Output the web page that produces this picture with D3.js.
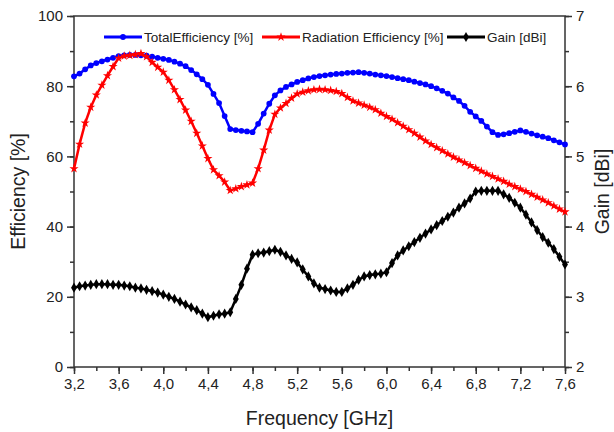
<!DOCTYPE html>
<html>
<head>
<meta charset="utf-8">
<script src="https://cdn.jsdelivr.net/npm/d3@7"></script>
<style>
	body { margin: 0; background: #fff; }
	svg text { font-family: "Liberation Sans", Arial, sans-serif; fill: #222; }
	.axis path, .axis line { stroke: #333; stroke-width: 1.5; }
</style>
</head>
<body>
<svg id="chart" width="614" height="432"></svg>
<script>
// frequency grid, GHz (every 0.05)
var freqStart = 3.2, freqStep = 0.05;

// total efficiency [%]
var totalEff = [82.8, 83.6, 84.8, 85.9, 86.6, 87.1, 87.6, 88.1, 88.6, 88.8,
	88.9, 88.9, 88.8, 88.7, 88.4, 88.1, 87.8, 87.5, 87.0, 86.4,
	85.7, 84.6, 83.4, 82.0, 80.4, 77.8, 75.2, 71.5, 67.8, 67.5,
	67.3, 67.1, 66.9, 69.3, 72.2, 75.0, 77.4, 78.8, 79.8, 80.5,
	81.2, 81.7, 82.2, 82.6, 82.9, 83.1, 83.3, 83.5, 83.6, 83.8,
	83.9, 84.0, 83.8, 83.6, 83.3, 83.1, 82.9, 82.6, 82.3, 82.0,
	81.7, 81.3, 80.9, 80.5, 80.0, 79.4, 78.7, 77.9, 76.8, 75.8,
	74.4, 72.7, 71.4, 70.1, 68.5, 66.9, 66.1, 66.3, 66.6, 67.0,
	67.4, 67.0, 66.5, 66.0, 65.6, 65.2, 64.6, 64.0, 63.4];

// radiation efficiency [%]
var radEff = [56.5, 63.5, 69.5, 74.0, 77.5, 80.3, 83.0, 85.6, 88.0, 88.6,
	88.8, 89.0, 89.3, 88.4, 86.8, 85.4, 84.0, 81.7, 79.0, 76.2,
	73.2, 70.0, 66.6, 63.0, 59.4, 56.2, 54.5, 52.7, 50.3, 50.8,
	51.4, 51.9, 52.4, 56.5, 61.8, 67.5, 72.0, 73.8, 75.1, 76.6,
	77.8, 78.3, 78.7, 79.0, 79.1, 79.0, 78.8, 78.5, 77.9, 76.8,
	75.8, 75.2, 74.6, 74.0, 73.3, 72.3, 71.4, 70.6, 69.6, 68.6,
	67.6, 66.6, 65.5, 64.4, 63.4, 62.5, 61.6, 60.7, 59.8, 59.0,
	58.2, 57.4, 56.6, 55.8, 55.0, 54.3, 53.6, 52.9, 52.1, 51.4,
	50.7, 50.0, 49.2, 48.4, 47.6, 46.8, 45.9, 45.0, 44.2];

// gain [dBi]
var gain = [3.13, 3.15, 3.16, 3.17, 3.18, 3.18, 3.18, 3.17, 3.17, 3.16,
	3.15, 3.13, 3.12, 3.10, 3.08, 3.06, 3.03, 3.00, 2.97, 2.93,
	2.89, 2.85, 2.81, 2.76, 2.71, 2.73, 2.75, 2.76, 2.78, 2.97,
	3.17, 3.40, 3.60, 3.62, 3.63, 3.65, 3.67, 3.64, 3.59, 3.54,
	3.49, 3.39, 3.29, 3.19, 3.13, 3.11, 3.09, 3.07, 3.07, 3.12,
	3.17, 3.24, 3.29, 3.31, 3.32, 3.33, 3.35, 3.48, 3.59, 3.66,
	3.72, 3.78, 3.84, 3.90, 3.96, 4.02, 4.08, 4.14, 4.20, 4.27,
	4.33, 4.40, 4.50, 4.51, 4.51, 4.51, 4.51, 4.46, 4.41, 4.34,
	4.27, 4.17, 4.06, 3.95, 3.85, 3.77, 3.68, 3.57, 3.46];

var freqTicks = [3.2, 3.6, 4.0, 4.4, 4.8, 5.2, 5.6, 6.0, 6.4, 6.8, 7.2, 7.6];
var effTicks = [0, 20, 40, 60, 80, 100];
var gainTicks = [2, 3, 4, 5, 6, 7];
var legendNames = ['TotalEfficiency [%]', 'Radiation Efficiency [%]', 'Gain [dBi]'];

var svg = d3.select('#chart'),
		margin = {top: 16, right: 49, bottom: 65, left: 74},
		width = +svg.attr('width') - margin.left - margin.right,
		height = +svg.attr('height') - margin.top - margin.bottom,
		g = svg.append('g').attr('transform', 'translate(' + margin.left + ',' + margin.top + ')');

var freq = totalEff.map(function(d, i) { return +(freqStart + i * freqStep).toFixed(2); });

var x = d3.scaleLinear().domain([3.2, 7.6]).range([0, width]);
var yL = d3.scaleLinear().domain([0, 100]).range([height, 0]);
var yR = d3.scaleLinear().domain([2, 7]).range([height, 0]);

var comma = function(d) { return d3.format('.1f')(d).replace('.', ','); };

// minor ticks first, then labelled axes
g.append('g').attr('class', 'axis')
	.attr('transform', 'translate(0,' + height + ')')
	.call(d3.axisBottom(x).tickValues(d3.range(3.2, 7.61, 0.2)).tickSize(4).tickFormat(''));
g.append('g').attr('class', 'axis')
	.attr('transform', 'translate(0,' + height + ')')
	.call(d3.axisBottom(x).tickValues(freqTicks).tickSize(7).tickPadding(4).tickSizeOuter(0).tickFormat(comma))
	.selectAll('text').attr('font-size', 15);

g.append('g').attr('class', 'axis')
	.call(d3.axisLeft(yL).tickValues(d3.range(0, 101, 10)).tickSize(4).tickFormat(''));
g.append('g').attr('class', 'axis')
	.call(d3.axisLeft(yL).tickValues(effTicks).tickSize(7).tickPadding(4).tickSizeOuter(0))
	.selectAll('text').attr('font-size', 15);

g.append('g').attr('class', 'axis')
	.attr('transform', 'translate(' + width + ',0)')
	.call(d3.axisRight(yR).tickValues(d3.range(2, 7.01, 0.5)).tickSize(4).tickFormat(''));
g.append('g').attr('class', 'axis')
	.attr('transform', 'translate(' + width + ',0)')
	.call(d3.axisRight(yR).tickValues(gainTicks).tickSize(7).tickPadding(4).tickSizeOuter(0).tickFormat(d3.format('d')))
	.selectAll('text').attr('font-size', 15);

g.selectAll('.axis .domain').remove();
g.append('rect').attr('width', width).attr('height', height)
	.attr('fill', 'none').attr('stroke', '#333').attr('stroke-width', 1.5);

// series
var series = [
	{vals: totalEff, y: yL, color: '#0000ff', sym: d3.symbolCircle, size: 26},
	{vals: radEff, y: yL, color: '#ff0000', sym: d3.symbolStar, size: 26},
	{vals: gain, y: yR, color: '#000000', sym: d3.symbolDiamond, size: 30}
];

series.forEach(function(s) {
	var line = d3.line()
		.x(function(d, i) { return x(freq[i]); })
		.y(function(d) { return s.y(d); });
	g.append('path').datum(s.vals)
		.attr('fill', 'none').attr('stroke', s.color).attr('stroke-width', 2.5)
		.attr('d', line);
	g.selectAll(null).data(s.vals).enter().append('path')
		.attr('transform', function(d, i) { return 'translate(' + x(freq[i]) + ',' + s.y(d) + ')'; })
		.attr('d', d3.symbol().type(s.sym).size(s.size))
		.attr('fill', s.color);
});

// legend
var legX = [30, 188, 373];
var leg = g.append('g').attr('transform', 'translate(0,21)');
series.forEach(function(s, i) {
	var lg = leg.append('g').attr('transform', 'translate(' + legX[i] + ',0)');
	lg.append('line').attr('x1', 0).attr('x2', 38).attr('stroke', s.color).attr('stroke-width', 3);
	lg.append('path').attr('transform', 'translate(19,0)')
		.attr('d', d3.symbol().type(s.sym).size(s.size)).attr('fill', s.color);
	lg.append('text').attr('x', 40).attr('dy', '0.35em').attr('font-size', 13.5).text(legendNames[i]);
});

// axis titles
svg.append('text').attr('x', margin.left + width / 2).attr('y', 425)
	.attr('text-anchor', 'middle').attr('font-size', 19.5).text('Frequency [GHz]');
svg.append('text').attr('transform', 'translate(25,' + (margin.top + height / 2) + ') rotate(-90)')
	.attr('text-anchor', 'middle').attr('font-size', 19.5).text('Efficiency [%]');
svg.append('text').attr('transform', 'translate(609,' + (margin.top + height / 2) + ') rotate(-90)')
	.attr('text-anchor', 'middle').attr('font-size', 19.5).text('Gain [dBi]');
</script>
</body>
</html>
